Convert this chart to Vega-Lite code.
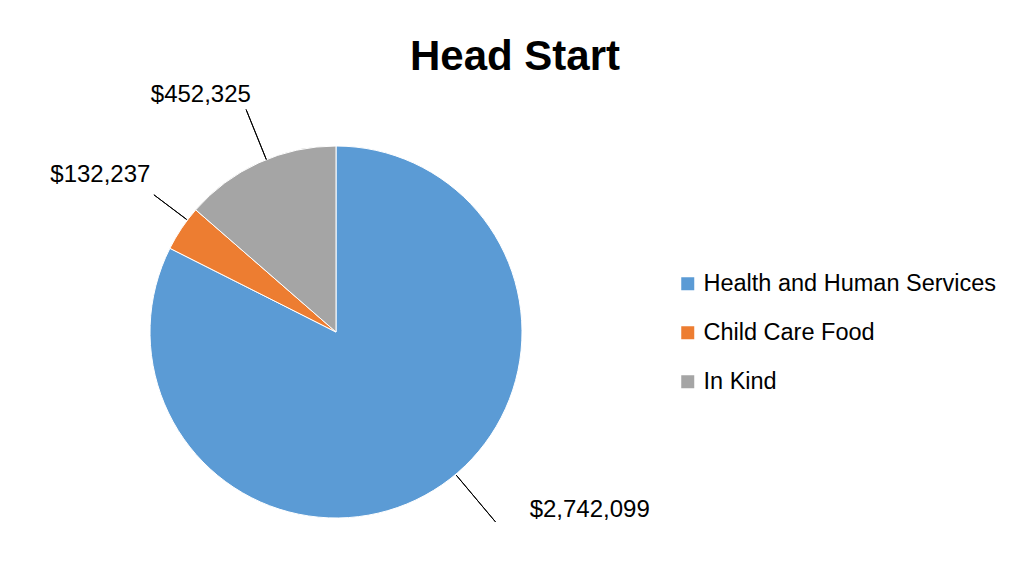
{
  "$schema": "https://vega.github.io/schema/vega-lite/v6.json",
  "autosize": "none",
  "width": 372,
  "height": 372,
  "padding": {"left": 150, "top": 146, "right": 491, "bottom": 57},
  "background": "white",
  "config": {"view": {"stroke": null}, "font": "Liberation Sans"},
  "title": {
    "text": "Head Start",
    "font": "Liberation Sans",
    "fontSize": 42,
    "fontWeight": "bold",
    "color": "#000000",
    "anchor": "middle",
    "dx": 179,
    "offset": 4
  },
  "data": {
    "values": [
      {"source": "Health and Human Services", "amount": 2742099, "label": "$2,742,099", "order": 1},
      {"source": "Child Care Food", "amount": 132237, "label": "$132,237", "order": 2},
      {"source": "In Kind", "amount": 452325, "label": "$452,325", "order": 3}
    ]
  },
  "transform": [
    {"stack": "amount", "groupby": [], "sort": [{"field": "order", "order": "ascending"}], "as": ["a0", "a1"]}
  ],
  "layer": [
    {
      "mark": {"type": "arc", "radius": 186, "stroke": "#ffffff", "strokeWidth": 1},
      "encoding": {
        "theta": {"field": "a0", "type": "quantitative", "scale": {"zero": true}},
        "theta2": {"field": "a1"},
        "color": {
          "field": "source",
          "type": "nominal",
          "scale": {
            "domain": ["Health and Human Services", "Child Care Food", "In Kind"],
            "range": ["#5B9BD5", "#ED7D31", "#A5A5A5"]
          },
          "legend": {
            "title": null,
            "orient": "none",
            "legendX": 526,
            "legendY": 126,
            "symbolType": "square",
            "symbolSize": 169,
            "symbolStrokeWidth": 0,
            "labelFont": "Liberation Sans",
            "labelFontSize": 23.5,
            "labelColor": "#000000",
            "labelLimit": 400,
            "labelOffset": 4,
            "rowPadding": 24
          }
        }
      }
    },
    {
      "transform": [{"filter": "datum.source == 'In Kind'"}],
      "mark": {"type": "arc", "radius": 240, "radius2": 186, "fill": null, "stroke": "#000000", "strokeWidth": 1, "thetaOffset": -0.384, "theta2Offset": -0.384},
      "encoding": {
        "theta": {"field": "a1", "type": "quantitative"},
        "theta2": {"field": "a1"}
      }
    },
    {
      "transform": [{"filter": "datum.source == 'Child Care Food'"}],
      "mark": {"type": "arc", "radius": 228, "radius2": 187, "fill": null, "stroke": "#000000", "strokeWidth": 1, "thetaOffset": 0.179, "theta2Offset": 0.179},
      "encoding": {
        "theta": {"field": "a0", "type": "quantitative"},
        "theta2": {"field": "a0"}
      }
    },
    {
      "transform": [{"filter": "datum.source == 'Health and Human Services'"}],
      "mark": {"type": "arc", "radius": 248, "radius2": 187, "fill": null, "stroke": "#000000", "strokeWidth": 1, "thetaOffset": 2.443, "theta2Offset": 2.443},
      "encoding": {
        "theta": {"field": "a0", "type": "quantitative"},
        "theta2": {"field": "a0"}
      }
    },
    {
      "transform": [{"filter": "datum.source == 'In Kind'"}],
      "mark": {"type": "text", "radius": 273, "thetaOffset": -0.518, "fontSize": 24, "font": "Liberation Sans", "color": "#000000", "align": "center", "baseline": "middle"},
      "encoding": {
        "theta": {"field": "a1", "type": "quantitative"},
        "text": {"field": "label"}
      }
    },
    {
      "transform": [{"filter": "datum.source == 'Child Care Food'"}],
      "mark": {"type": "text", "radius": 283, "thetaOffset": 0.12, "fontSize": 24, "font": "Liberation Sans", "color": "#000000", "align": "center", "baseline": "middle"},
      "encoding": {
        "theta": {"field": "a0", "type": "quantitative"},
        "text": {"field": "label"}
      }
    },
    {
      "transform": [{"filter": "datum.source == 'Health and Human Services'"}],
      "mark": {"type": "text", "radius": 310, "thetaOffset": 2.183, "fontSize": 24, "font": "Liberation Sans", "color": "#000000", "align": "center", "baseline": "middle"},
      "encoding": {
        "theta": {"field": "a0", "type": "quantitative"},
        "text": {"field": "label"}
      }
    }
  ]
}
